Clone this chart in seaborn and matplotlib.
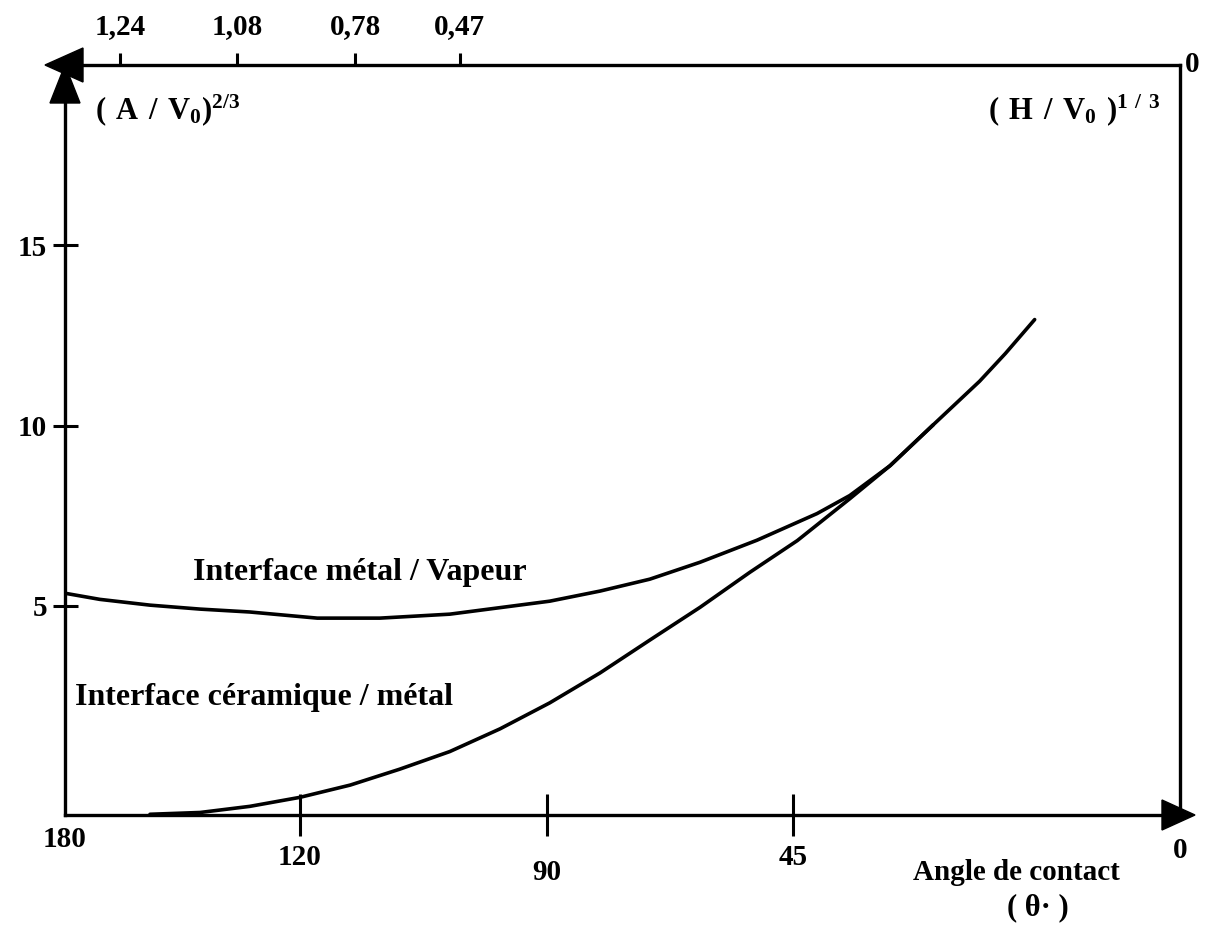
import numpy as np
import matplotlib
matplotlib.use('Agg')
import matplotlib.pyplot as plt
import seaborn as sns
from matplotlib.patches import Polygon

# --- données ---
# échelle des angles (axe du bas)
angle_ticks = [180, 120, 90, 45, 0]
angle_labels = ['180', '120', '90', '45', '0']

# échelle (A/V0)^2/3 (axe du haut), repérée en angle
top_ticks = [166.0, 136.1, 113.3, 100.6]
top_labels = ['1,24', '1,08', '0,78', '0,47']

# axe vertical
y_ticks = [5, 10, 15]
y_labels = ['5', '10', '15']

# interface métal / vapeur
vap_angle = [180, 171.1, 158.3, 145.5, 132.8, 117.9, 110.3, 101.8, 89.5, 80.3, 71.2,
             62.0, 51.6, 42.2, 38.4, 33.7, 28.7, 23.3, 20.3, 16.9]
vap_value = [5.35, 5.18, 5.02, 4.91, 4.83, 4.66, 4.66, 4.77, 5.13, 5.41, 5.74,
             6.21, 6.82, 7.56, 8.06, 8.89, 10.02, 11.23, 12.00, 12.94]

# interface céramique / métal
cer_angle = [158.3, 145.5, 132.8, 120, 113.9, 107.9, 101.8, 95.7, 89.5, 80.3, 71.2,
             62.0, 52.9, 44.5, 38.4, 33.7, 28.7]
cer_value = [-0.78, -0.73, -0.56, -0.31, 0.03, 0.47, 0.96, 1.59, 2.31, 3.14, 4.05,
             4.96, 5.93, 6.81, 7.97, 8.89, 10.02]

# échelle non uniforme du dessin original (angle -> abscisse)
SCALE_ANG = [-90, 0, 45, 90, 120, 180, 270]
SCALE_U = [-774, 0, 387, 633, 880, 1115, 1475]


def fwd(a):
    return np.interp(a, SCALE_ANG, SCALE_U)


def inv(u):
    return np.interp(u, SCALE_U, SCALE_ANG)


sns.set_theme(style='white', rc={
    'axes.edgecolor': 'black', 'text.color': 'black',
    'xtick.color': 'black', 'ytick.color': 'black',
    'axes.labelcolor': 'black',
})
plt.rcParams['font.family'] = ['Liberation Serif', 'DejaVu Serif']
plt.rcParams['font.weight'] = 'bold'
plt.rcParams['mathtext.fontset'] = 'custom'
plt.rcParams['mathtext.rm'] = 'Liberation Serif:bold'

W, H = 1232, 938
fig = plt.figure(figsize=(W / 100, H / 100), dpi=100)
ax = fig.add_axes([65 / W, 123 / H, 1115 / W, 750 / H])

sns.lineplot(x=vap_angle, y=vap_value, ax=ax, color='black', lw=2.6,
             sort=False, estimator=None)
sns.lineplot(x=cer_angle, y=cer_value, ax=ax, color='black', lw=2.6,
             sort=False, estimator=None)

ax.set_xscale('function', functions=(fwd, inv))
ax.set_xlim(180, 0)
ax.set_ylim(-0.8, 20)

for s in ax.spines.values():
    s.set_linewidth(2.4)
    s.set_color('black')

# graduations
ax.set_yticks(y_ticks)
ax.set_yticklabels(y_labels)
ax.tick_params(axis='y', direction='inout', length=18, width=2.2,
               labelsize=21, pad=4, left=True)
ax.set_xticks(angle_ticks[1:4])
ax.set_xticklabels([])
ax.tick_params(axis='x', direction='inout', length=30, width=2.2, bottom=True)

# étiquettes de l'axe du bas, décalées comme sur l'original
label_drop = [-0.033, -0.056, -0.076, -0.057, -0.047]
xt = ax.get_xaxis_transform()
for a, lab, dy in zip(angle_ticks, angle_labels, label_drop):
    ax.text(a, dy, lab, transform=xt, ha='center', va='center', fontsize=21)

# axe du haut
ax2 = ax.twiny()
ax2.set_xscale('function', functions=(fwd, inv))
ax2.set_xlim(180, 0)
ax2.set_xticks(top_ticks)
ax2.set_xticklabels(top_labels)
ax2.tick_params(axis='x', direction='out', length=9, width=2.2,
                labelsize=21, pad=9, top=True)
for s in ax2.spines.values():
    s.set_visible(False)

# flèches
pw, ph = 1115, 750
arrows = [
    [(0, 1), (-15 / pw, 1 - 38 / ph), (15 / pw, 1 - 38 / ph)],
    [(-20 / pw, 1), (18 / pw, 1 + 17 / ph), (18 / pw, 1 - 17 / ph)],
    [(1 + 15 / pw, 0), (1 - 18 / pw, 15 / ph), (1 - 18 / pw, -15 / ph)],
]
for tri in arrows:
    ax.add_patch(Polygon(tri, closed=True, transform=ax.transAxes,
                         color='black', clip_on=False, zorder=5))

# textes
ax.text(147.3, 5.93, 'Interface métal / Vapeur', ha='left', va='center', fontsize=23)
ax.text(177.4, 2.45, 'Interface céramique / métal', ha='left', va='center', fontsize=23)
ax.text(19.0, -0.076, 'Angle de contact', transform=xt, ha='center', va='center', fontsize=21)
ax.text(16.5, -0.124, '( θ· )', transform=xt, ha='center', va='center', fontsize=22)
ax.text(0.027, 0.94, r'$\mathrm{(\ A\ /\ V_0)^{2/3}}$', transform=ax.transAxes,
        ha='left', va='center', fontsize=22)
ax.text(0.982, 0.94, r'$\mathrm{(\ H\ /\ V_0\ )^{1\ /\ 3}}$', transform=ax.transAxes,
        ha='right', va='center', fontsize=22)
ax.text(1.004, 1.0, '0', transform=ax.transAxes, ha='left', va='center', fontsize=21)

fig.savefig('out.png', dpi=100)
